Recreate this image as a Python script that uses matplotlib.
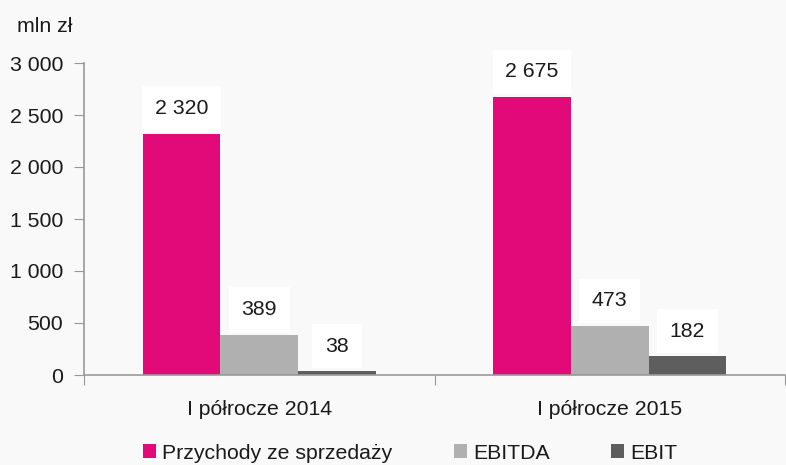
import matplotlib
matplotlib.use("Agg")
import matplotlib.pyplot as plt
import numpy as np

categories = ["I półrocze 2014", "I półrocze 2015"]
series_names = ["Przychody ze sprzedaży", "EBITDA", "EBIT"]
revenue = [2320, 2675]
ebitda = [389, 473]
ebit = [38, 182]
yticks = [0, 500, 1000, 1500, 2000, 2500, 3000]

colors = ["#E20A78", "#B0B0B0", "#5E5E5E"]
plt.rcParams['font.family'] = ['Liberation Sans', 'DejaVu Sans']
txt = "#1A1A1A"
fs = 15.3

fig = plt.figure(figsize=(7.86, 4.65), dpi=100, facecolor="#F9F9F9")
ax = fig.add_axes([84/786, (465-375)/465, (785-84)/786, (375-63)/465])
ax.set_facecolor("#F9F9F9")

x = np.arange(len(categories))
w = 0.222
data = [revenue, ebitda, ebit]
for i, (vals, name, c) in enumerate(zip(data, series_names, colors)):
    pos = x + (i - 1) * w
    ax.bar(pos, vals, width=w, color=c, label=name, zorder=2)
    for p, v in zip(pos, vals):
        ax.annotate(f"{v:,}".replace(",", " "), (p, v), xytext=(0, 25),
                    textcoords="offset pixels",
                    ha="center", va="center", fontsize=fs, color=txt,
                    bbox=dict(boxstyle="square,pad=0.6", fc="white", ec="none"), zorder=3)

ax.set_xlim(-0.5, len(categories) - 0.5)
ax.set_ylim(0, 3000)
ax.set_yticks(yticks)
ax.set_yticklabels([f"{t:,}".replace(",", " ") for t in yticks], fontsize=fs, color=txt)
ax.set_xticks([-0.5, 0.5, 1.5])
ax.set_xticklabels([])
ax.set_xticks(x, minor=True)
ax.set_xticklabels(categories, minor=True, fontsize=fs, color=txt)
ax.tick_params(axis="x", which="minor", length=0, pad=18)
ax.tick_params(axis="x", which="major", length=7, color="#999999", direction="out")
ax.tick_params(axis="y", length=7, color="#999999", pad=8)
for s in ["top", "right"]:
    ax.spines[s].set_visible(False)
for s in ["left", "bottom"]:
    ax.spines[s].set_color("#999999")
    ax.spines[s].set_linewidth(1.2)

fig.text(17/786, 1 - 27/465, "mln zł", fontsize=fs, color=txt, va="center", ha="left")

leg = fig.legend(loc="center", bbox_to_anchor=(0.522, 1 - 453/465), ncol=3, frameon=False,
                 fontsize=fs, handlelength=0.6, handleheight=0.6, handletextpad=0.3,
                 columnspacing=2.9)
for t in leg.get_texts():
    t.set_color(txt)

fig.savefig("out.png", dpi=100, facecolor=fig.get_facecolor())
